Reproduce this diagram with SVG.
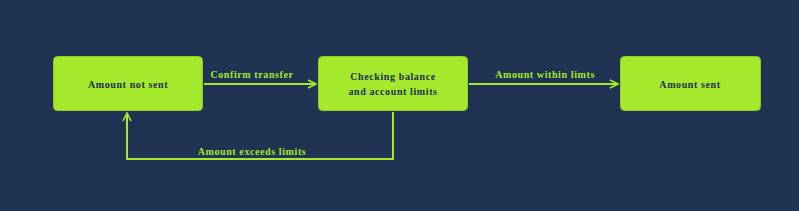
<svg xmlns="http://www.w3.org/2000/svg" width="799" height="211" viewBox="0 0 799 211">
<defs>
<style>
.node rect{fill:#a4e92c;stroke:#8fcf22;stroke-width:1}
.node text{font-family:"Liberation Serif",serif;font-weight:bold;font-size:10px;letter-spacing:0.6px;fill:#1e2d44;text-anchor:middle}
.edge{fill:none;stroke:#a4e92c;stroke-width:2}
.lbl{font-family:"Liberation Serif",serif;font-weight:bold;font-size:10px;letter-spacing:0.6px;fill:#a4e92c;text-anchor:middle}
</style>
<marker id="ah" viewBox="0 0 10 10" refX="9" refY="5" markerWidth="10" markerHeight="10" markerUnits="userSpaceOnUse" orient="auto">
<path d="M1,1 L9,5 L1,9" fill="none" stroke="#a4e92c" stroke-width="1.6"/>
</marker>
</defs>
<rect width="799" height="211" fill="#213352"/>
<g id="connectors">
<path class="edge" d="M204,84 H316" marker-end="url(#ah)"/>
<path class="edge" d="M469,84 H618" marker-end="url(#ah)"/>
<path class="edge" d="M393,112 V159 H127 V113" marker-end="url(#ah)"/>
<text class="lbl" x="252" y="78">Confirm transfer</text>
<text class="lbl" x="545" y="78">Amount within limts</text>
<text class="lbl" x="252" y="155">Amount exceeds limits</text>
</g>
<g id="node-not-sent" class="node">
<rect x="53.5" y="56.5" width="149" height="54" rx="4"/>
<text x="128" y="88">Amount not sent</text>
</g>
<g id="node-checking" class="node">
<rect x="318.5" y="56.5" width="149" height="54" rx="4"/>
<text x="393" y="80">Checking balance</text>
<text x="393" y="95">and account limits</text>
</g>
<g id="node-sent" class="node">
<rect x="620.5" y="56.5" width="140" height="54" rx="4"/>
<text x="690" y="88">Amount sent</text>
</g>
</svg>
